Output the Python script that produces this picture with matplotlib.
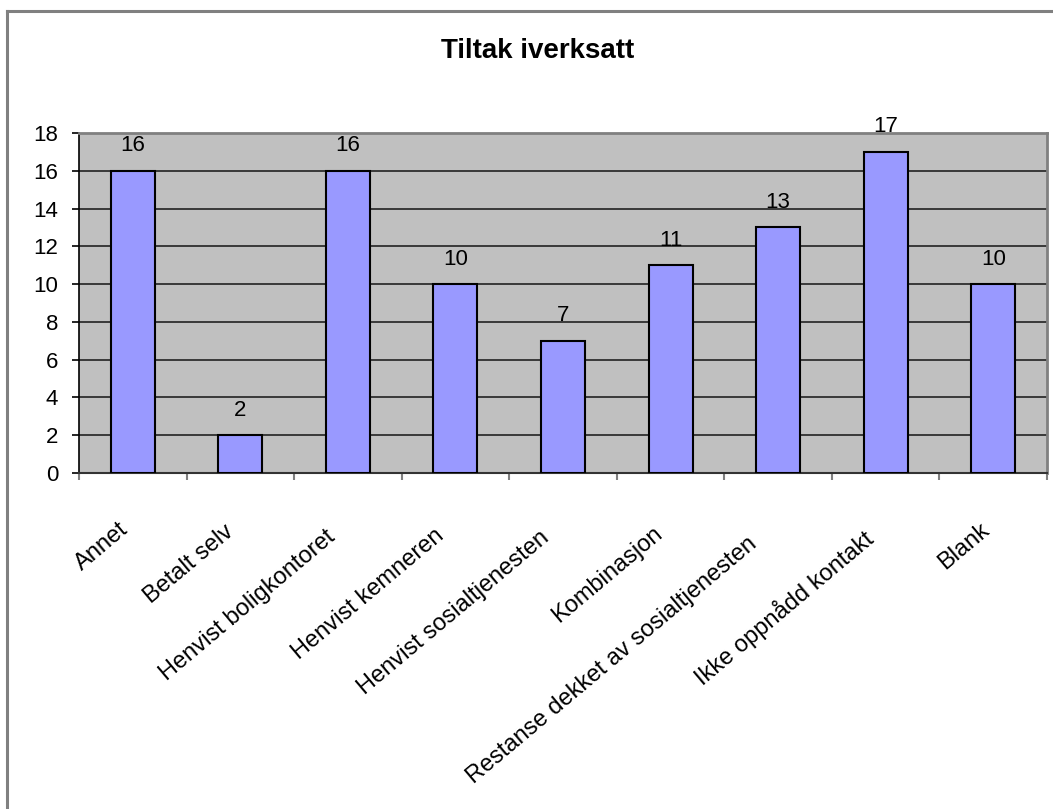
import matplotlib
matplotlib.use("Agg")
import matplotlib.pyplot as plt
from matplotlib.lines import Line2D
import math

categories = [
    "Annet",
    "Betalt selv",
    "Henvist boligkontoret",
    "Henvist kemneren",
    "Henvist sosialtjenesten",
    "Kombinasjon",
    "Restanse dekket av sosialtjenesten",
    "Ikke oppnådd kontakt",
    "Blank",
]
values = [16, 2, 16, 10, 7, 11, 13, 17, 10]
y_ticks = [0, 2, 4, 6, 8, 10, 12, 14, 16, 18]

plt.rcParams["font.family"] = ["Liberation Sans", "DejaVu Sans"]

DPI = 100
fig = plt.figure(figsize=(10.53, 8.09), dpi=DPI)
fig.patch.set_facecolor("white")

# outer chart frame (left and top edges visible)
fx, fy = 7 / 1053, 1 - 11 / 809
fig.add_artist(Line2D([fx, fx], [0, fy], transform=fig.transFigure,
                      color="#808080", lw=2.2))
fig.add_artist(Line2D([fx, 1], [fy, fy], transform=fig.transFigure,
                      color="#808080", lw=2.2))

ax = fig.add_axes([79 / 1053, 1 - 473 / 809, (1047 - 79) / 1053, (473 - 133) / 809])
ax.set_facecolor("#C0C0C0")

x = list(range(len(categories)))
ax.bar(x, values, width=0.41, color="#9999FF", edgecolor="black",
       linewidth=1.5, zorder=3)

ax.set_xlim(-0.5, len(categories) - 0.5)
ax.set_ylim(0, 18)
ax.set_yticks(y_ticks)
ax.set_yticklabels([str(t) for t in y_ticks], fontsize=16)
ax.yaxis.grid(True, color="#222222", lw=1.2, zorder=1)
ax.set_axisbelow(True)

# category boundary ticks along the bottom axis
ax.set_xticks([i - 0.5 for i in range(len(categories) + 1)])
ax.set_xticklabels([])
ax.tick_params(axis="x", length=5, width=1.5, color="#808080", direction="out")
ax.tick_params(axis="y", length=5, width=1.2, color="black", pad=10)

# rotated category labels; longer labels slide back along their own direction
angle = 40
label_size = 17
renderer = fig.canvas.get_renderer()
px2pt = 72 / DPI
for i, name in enumerate(categories):
    probe = fig.text(0, 0, name, fontsize=label_size)
    width_px = probe.get_window_extent(renderer).width
    probe.remove()
    slide = 0.07 * width_px
    dx = -11 - slide * math.cos(math.radians(angle))
    dy = -43 - slide * math.sin(math.radians(angle))
    ax.annotate(name, xy=(i, 0), xytext=(dx * px2pt, dy * px2pt),
                textcoords="offset points", rotation=angle, ha="right",
                va="top", rotation_mode="anchor", fontsize=label_size,
                annotation_clip=False)

for i, v in enumerate(values):
    ax.annotate(str(v), xy=(i, v), xytext=(0, 10.5), textcoords="offset points",
                ha="center", va="bottom", fontsize=16)

for side in ("top", "right"):
    ax.spines[side].set_color("#808080")
    ax.spines[side].set_linewidth(2)
ax.spines["left"].set_color("black")
ax.spines["left"].set_linewidth(1.2)
ax.spines["bottom"].set_color("#333333")
ax.spines["bottom"].set_linewidth(1.5)

fig.text(538 / 1053, 1 - 51 / 809, "Tiltak iverksatt", ha="center", va="center",
         fontsize=20, fontweight="bold")

fig.savefig("out.png", dpi=DPI, facecolor="white")
